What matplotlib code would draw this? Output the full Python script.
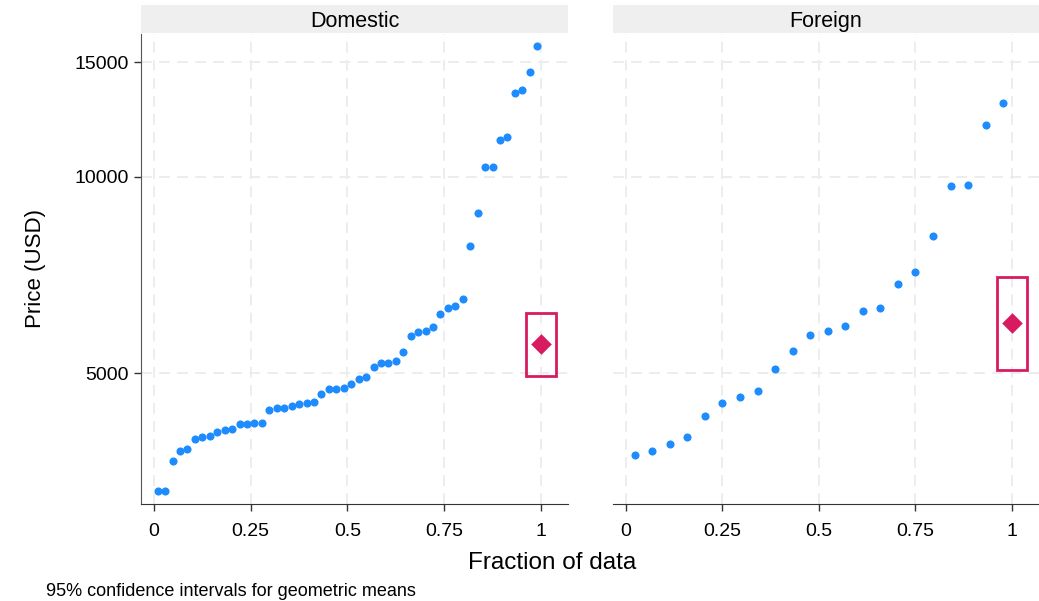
import numpy as np
import matplotlib
matplotlib.use("Agg")
import matplotlib.pyplot as plt

plt.rcParams['font.family'] = ['Liberation Sans', 'DejaVu Sans']

# prices (USD), auto data
domestic_price = [4099, 4749, 3799, 4816, 7827, 5788, 4453, 5189, 10372, 4082,
                  11385, 14500, 15906, 3299, 5705, 4504, 5104, 3667, 3955, 3984,
                  4010, 5886, 6342, 4389, 4187, 11497, 13594, 13466, 3829, 5379,
                  6165, 4516, 6303, 3291, 8814, 5172, 4733, 4890, 4181, 4195,
                  10371, 4647, 4425, 4482, 6486, 4060, 5798, 4934, 5222, 4723,
                  4424, 4172]
foreign_price = [9690, 6295, 9735, 6229, 4589, 5079, 8129, 4296, 5799, 4499,
                 3995, 12990, 3895, 3798, 5899, 3748, 5719, 7140, 5397, 4697,
                 6850, 11995]

panels = ["Domestic", "Foreign"]
# geometric means and 95% CI
gmean = [5540, 5966]
ci_lo = [4947, 5053]
ci_hi = [6181, 7019]

yticks = [5000, 10000, 15000]
xticks = [0, 0.25, 0.5, 0.75, 1]
xticklabels = ["0", "0.25", "0.5", "0.75", "1"]

blue = "#1E8CFF"
red = "#D81B60"

fig = plt.figure(figsize=(10.39, 6.01), dpi=100)
W, H = 1039, 601
boxes = [(141, 34, 568, 504), (613, 34, 1039, 504)]

for k, (name, data) in enumerate(zip(panels, [domestic_price, foreign_price])):
    x0, y0, x1, y1 = boxes[k]
    ax = fig.add_axes([x0 / W, 1 - y1 / H, (x1 - x0) / W, (y1 - y0) / H])
    vals = np.sort(data)
    n = len(vals)
    frac = (np.arange(1, n + 1) - 0.5) / n
    ax.scatter(frac, vals, s=34, color=blue, zorder=3, linewidths=0)

    # CI box and geometric mean
    ax.add_patch(plt.Rectangle((1 - 0.038, ci_lo[k]), 0.076, ci_hi[k] - ci_lo[k],
                               fill=False, edgecolor=red, lw=2, zorder=4))
    ax.scatter([1], [gmean[k]], marker="D", s=110, color=red, zorder=5, linewidths=0)

    ax.set_yscale("log")
    ax.set_ylim(3148, 16570)
    ax.set_xlim(-0.0336, 1.07)
    ax.set_yticks(yticks)
    ax.set_yticklabels([str(v) for v in yticks])
    ax.yaxis.set_minor_locator(matplotlib.ticker.NullLocator())
    ax.set_xticks(xticks)
    ax.set_xticklabels(xticklabels)
    ax.grid(True, color="#ECECEC", ls=(0, (6, 4)), lw=1.3, zorder=0)
    ax.tick_params(labelsize=14, length=5, width=1, color="#333333")
    ax.tick_params(axis="x", pad=9)
    ax.tick_params(axis="y", pad=4)
    for s in ["top", "right"]:
        ax.spines[s].set_visible(False)
    ax.spines["bottom"].set_color("#333333")
    ax.spines["left"].set_color("#555555")
    if k == 1:
        ax.spines["left"].set_visible(False)
        ax.tick_params(axis="y", left=False, labelleft=False)
    else:
        ax.set_ylabel("Price (USD)", fontsize=16, labelpad=20)

    # strip header
    sx = fig.add_axes([x0 / W, 1 - 33 / H, (x1 - x0) / W, 28 / H])
    sx.set_facecolor("#EFEFEF")
    sx.set_xticks([])
    sx.set_yticks([])
    for s in sx.spines.values():
        s.set_visible(False)
    sx.text(0.5, 0.42, name, ha="center", va="center", fontsize=15.5, transform=sx.transAxes)

fig.text(552 / W, 1 - 563 / H, "Fraction of data", ha="center", va="center", fontsize=17.5)
fig.text(46 / W, 1 - 592 / H, "95% confidence intervals for geometric means",
         ha="left", va="center", fontsize=13)

fig.savefig("out.png", dpi=100)
